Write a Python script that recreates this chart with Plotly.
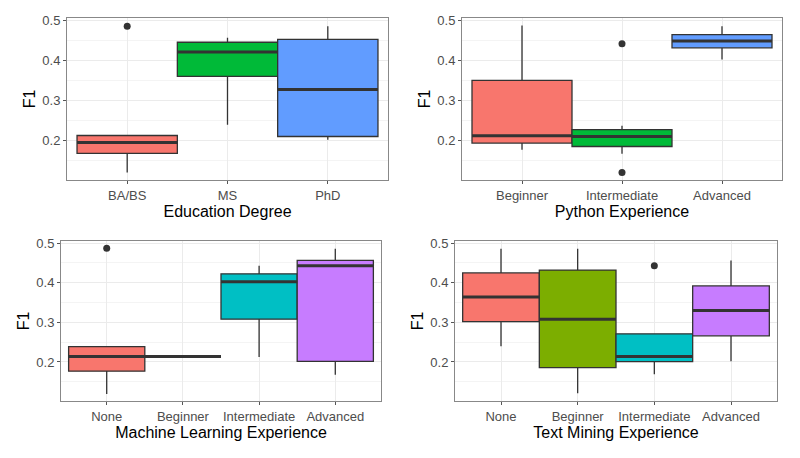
import plotly.graph_objects as go

# ---------------- data ----------------
edu_cats = ["BA/BS", "MS", "PhD"]
edu_q1 = [0.168, 0.360, 0.210]
edu_med = [0.195, 0.421, 0.327]
edu_q3 = [0.2125, 0.445, 0.452]
edu_lo = [0.120, 0.239, 0.202]
edu_hi = [0.2125, 0.456, 0.485]
edu_out_x = ["BA/BS"]
edu_out_y = [0.485]

py_cats = ["Beginner", "Intermediate", "Advanced"]
py_q1 = [0.1935, 0.185, 0.431]
py_med = [0.212, 0.210, 0.448]
py_q3 = [0.350, 0.227, 0.464]
py_lo = [0.177, 0.167, 0.402]
py_hi = [0.487, 0.237, 0.485]
py_out_x = ["Intermediate", "Intermediate"]
py_out_y = [0.441, 0.120]

ml_cats = ["None", "Beginner", "Intermediate", "Advanced"]
ml_q1 = [0.1767, 0.214, 0.308, 0.2017]
ml_med = [0.214, 0.214, 0.4025, 0.443]
ml_q3 = [0.239, 0.214, 0.4225, 0.4567]
ml_lo = [0.119, 0.214, 0.2125, 0.168]
ml_hi = [0.239, 0.214, 0.443, 0.486]
ml_out_x = ["None"]
ml_out_y = [0.4875]

tm_cats = ["None", "Beginner", "Intermediate", "Advanced"]
tm_q1 = [0.3017, 0.186, 0.201, 0.266]
tm_med = [0.364, 0.308, 0.214, 0.330]
tm_q3 = [0.425, 0.432, 0.271, 0.392]
tm_lo = [0.240, 0.121, 0.169, 0.2017]
tm_hi = [0.486, 0.486, 0.271, 0.456]
tm_out_x = ["Intermediate"]
tm_out_y = [0.443]

titles = ["Education Degree", "Python Experience",
          "Machine Learning Experience", "Text Mining Experience"]

colors3 = ["#F8766D", "#00BA38", "#619CFF"]
colors4 = ["#F8766D", "#7CAE00", "#00BFC4", "#C77CFF"]

panels = [
    (edu_cats, edu_q1, edu_med, edu_q3, edu_lo, edu_hi, edu_out_x, edu_out_y, colors3),
    (py_cats, py_q1, py_med, py_q3, py_lo, py_hi, py_out_x, py_out_y, colors3),
    (ml_cats, ml_q1, ml_med, ml_q3, ml_lo, ml_hi, ml_out_x, ml_out_y, colors4),
    (tm_cats, tm_q1, tm_med, tm_q3, tm_lo, tm_hi, tm_out_x, tm_out_y, colors4),
]

W, H = 800, 458
# plot-area pixel boxes (left, right, top, bottom)
boxes = [(67, 388, 18, 180), (462, 782, 18, 180),
         (61, 381, 241, 401), (455, 777, 241, 401)]

FONT = "Liberation Sans, Arial, sans-serif"
fig = go.Figure()
layout = dict(
    width=W, height=H, margin=dict(l=0, r=0, t=0, b=0, autoexpand=False),
    paper_bgcolor="white", plot_bgcolor="white", showlegend=False,
    font=dict(family=FONT),
)

for i, (cats, q1, med, q3, lo, hi, ox, oy, cols) in enumerate(panels):
    n = len(cats)
    xa = "x" if i == 0 else f"x{i+1}"
    ya = "y" if i == 0 else f"y{i+1}"
    pos = list(range(n))
    for j in range(n):
        fig.add_trace(go.Box(
            x=[pos[j]], q1=[q1[j]], median=[med[j]], q3=[q3[j]],
            lowerfence=[lo[j]], upperfence=[hi[j]],
            width=1.0, whiskerwidth=0, fillcolor=cols[j],
            line=dict(color="#333333", width=1.3),
            xaxis=xa, yaxis=ya, hoverinfo="skip", boxpoints=False,
        ))
        # thick median line (ggplot fatten)
        fig.add_trace(go.Scatter(
            x=[pos[j] - 0.5, pos[j] + 0.5], y=[med[j], med[j]],
            mode="lines", line=dict(color="#333333", width=3),
            xaxis=xa, yaxis=ya, hoverinfo="skip",
        ))
    fig.add_trace(go.Scatter(
        x=[cats.index(c) for c in ox], y=oy, mode="markers",
        marker=dict(color="#333333", size=7),
        xaxis=xa, yaxis=ya, hoverinfo="skip",
    ))
    l, r, t, b = boxes[i]
    key = "" if i == 0 else str(i + 1)
    layout["xaxis" + key] = dict(
        domain=[l / W, r / W], anchor=ya, range=[-0.6, n - 0.4],
        automargin=False,
        tickvals=pos, ticktext=cats, showgrid=True, gridcolor="#EBEBEB",
        gridwidth=1, zeroline=False, showline=True, linecolor="#888888",
        linewidth=1, mirror=True, ticks="outside", ticklen=3,
        tickcolor="#555555", tickfont=dict(size=13, color="#4D4D4D"),
        title=dict(text=titles[i], font=dict(size=16, color="black"), standoff=3),
    )
    layout["yaxis" + key] = dict(
        domain=[1 - b / H, 1 - t / H], anchor=xa, range=[0.1015, 0.5055],
        automargin=False,
        tickvals=[0.2, 0.3, 0.4, 0.5], ticktext=["0.2", "0.3", "0.4", "0.5"],
        showgrid=True, gridcolor="#EBEBEB", gridwidth=1,
        minor=dict(tickvals=[0.15, 0.25, 0.35, 0.45], showgrid=True,
                   gridcolor="#F4F4F4", gridwidth=0.6, ticks=""),
        zeroline=False, showline=True, linecolor="#888888", linewidth=1,
        mirror=True, ticks="outside", ticklen=3, tickcolor="#555555",
        tickfont=dict(size=13, color="#4D4D4D"),
        title=dict(text="F1", font=dict(size=16, color="black"), standoff=2),
    )

fig.update_layout(**layout)
fig.write_html(
    "out.html",
    config={"displayModeBar": False},
    post_script="document.body.style.margin='0';document.body.style.overflow='hidden';",
)
